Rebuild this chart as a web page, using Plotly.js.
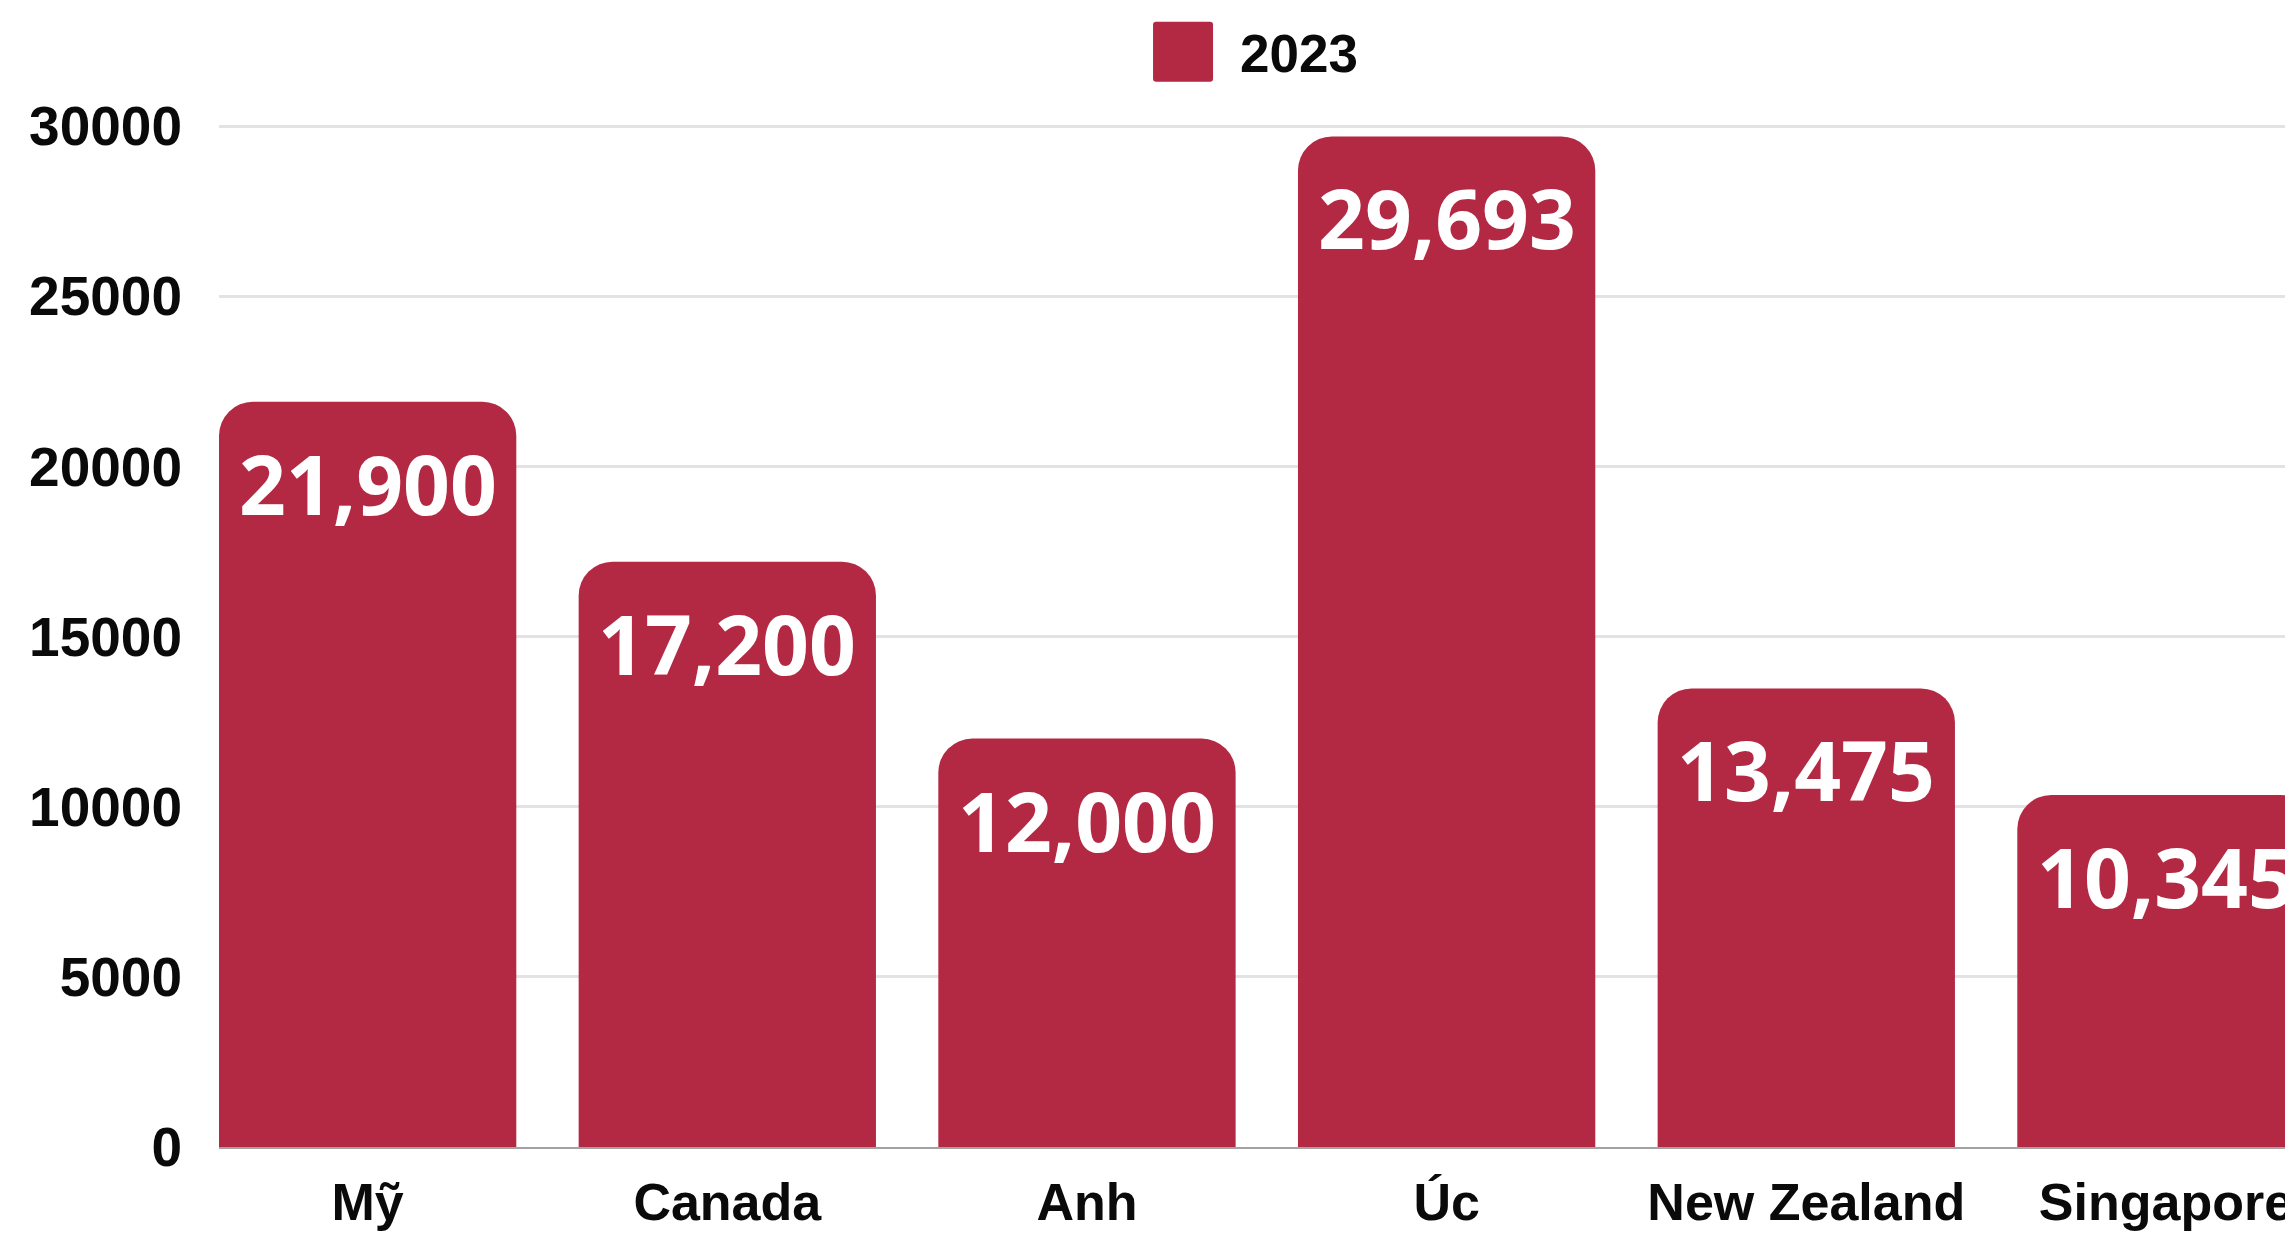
<!DOCTYPE html>
<html>
<head>
<meta charset="utf-8">
<script src="https://cdn.plot.ly/plotly-3.0.1.min.js"></script>
<style>
html,body{margin:0;padding:0;background:#fff;}
#chart{width:2285px;height:1234px;}
</style>
</head>
<body>
<div id="chart"></div>
<script>
const categories = ["Mỹ", "Canada", "Anh", "Úc", "New Zealand", "Singapore"];
const values2023 = [21900, 17200, 12000, 29693, 13475, 10345];
const seriesName = "2023";
const yTickValues = [0, 5000, 10000, 15000, 20000, 25000, 30000];

const barColor = "#B32943";
const tickFont = {family: "Liberation Sans, Arial, sans-serif", size: 55, color: "#0a0a0a", weight: 700};

const trace = {
  type: "bar",
  name: seriesName,
  x: categories,
  y: values2023,
  marker: {color: barColor, cornerradius: 34},
  hoverinfo: "skip",
  showlegend: true
};

const annotations = categories.map((c, i) => ({
  x: c, y: values2023[i], xref: "x", yref: "y",
  text: values2023[i].toLocaleString("en-US"),
  showarrow: false, yanchor: "top", xanchor: "center", yshift: -23,
  font: {family: "Open Sans, sans-serif", size: 82, color: "#ffffff", weight: 700}
}));

const layout = {
  width: 2285, height: 1234,
  margin: {l: 219, r: 0, t: 100, b: 87, pad: 0},
  paper_bgcolor: "#ffffff", plot_bgcolor: "#ffffff",
  bargap: 0.1734,
  showlegend: true,
  legend: {
    orientation: "h", x: 0.44, xanchor: "left", y: 1.046, yanchor: "middle",
    font: {family: "Liberation Sans, Arial, sans-serif", size: 53, color: "#0a0a0a", weight: 700},
    itemwidth: 102, bgcolor: "rgba(0,0,0,0)"
  },
  xaxis: {
    type: "category", range: [-0.4133, 5.331],
    showgrid: false, zeroline: false,
    showline: true, linecolor: "#a3a3a3", linewidth: 2,
    ticks: "", tickfont: {family: "Liberation Sans, Arial, sans-serif", size: 52, color: "#0a0a0a", weight: 700},
    ticklabelstandoff: 9, fixedrange: true
  },
  yaxis: {
    range: [0, 30764], tickmode: "array", tickvals: yTickValues,
    ticktext: yTickValues.map(v => String(v)),
    showgrid: true, gridcolor: "#e3e3e3", gridwidth: 3,
    zeroline: false, showline: false, ticks: "",
    tickfont: tickFont, ticklabelstandoff: 36, fixedrange: true
  },
  annotations: annotations
};

Plotly.newPlot("chart", [trace], layout, {staticPlot: true, displayModeBar: false}).then(() => {
  document.querySelectorAll("#chart .legend .legendpoints path").forEach(p => {
    p.setAttribute("d", "M-27,-30H27Q30,-30 30,-27V27Q30,30 27,30H-27Q-30,30 -30,27V-27Q-30,-30 -27,-30Z");
    p.setAttribute("transform", "translate(55,0)");
  });
});
</script>
</body>
</html>
